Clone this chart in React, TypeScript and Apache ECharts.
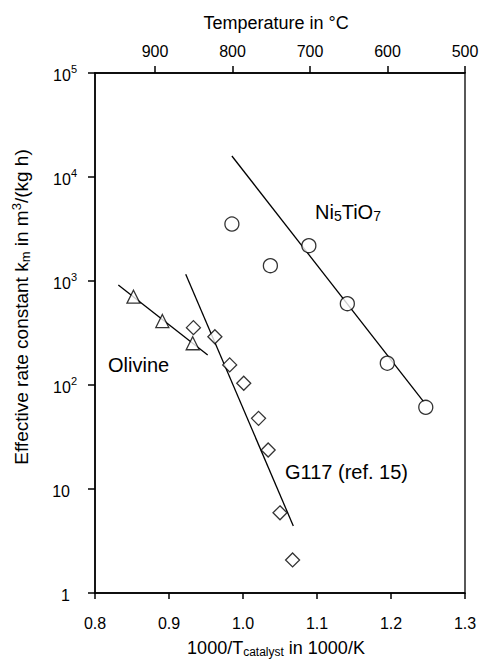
import React, { useEffect, useRef } from "react";
import * as echarts from "echarts";

// Olivine (triangles)
const olivineX = [0.852, 0.891, 0.932];
const olivineY = [706, 412, 252];
const olivineFitX = [0.8315, 0.9523];
const olivineFitY = [915, 194];

// G117 (ref. 15) (diamonds)
const g117X = [0.933, 0.962, 0.982, 1.001, 1.021, 1.034, 1.05, 1.067];
const g117Y = [356, 291, 156, 104, 47.8, 23.7, 5.9, 2.08];
const g117FitX = [0.9226, 1.068];
const g117FitY = [1160, 4.41];

// Ni5TiO7 (circles)
const niX = [0.985, 1.037, 1.089, 1.141, 1.195, 1.247];
const niY = [3532, 1404, 2185, 605, 162, 61];
const niFitX = [0.985, 1.244];
const niFitY = [15920, 69.1];

// Top axis (temperature in °C)
const tempTicks = [900, 800, 700, 600, 500];
const tempMin = 500;
const tempMax = 977.4;

const FONT = "'Liberation Sans', Arial, sans-serif";

const zip = (xs: number[], ys: number[]) => xs.map((x, i) => [x, ys[i]]);

export default function App() {
  const ref = useRef<HTMLDivElement>(null);
  useEffect(() => {
    if (!ref.current) return;
    const chart = echarts.init(ref.current, undefined, { renderer: "svg" });
    const lineStyle = { color: "#000", width: 1.3 };
    const markerStyle = { color: "#fff", borderColor: "#000", borderWidth: 1.3 };
    chart.setOption({
      animation: false,
      backgroundColor: "#fff",
      textStyle: { fontFamily: FONT, color: "#000" },
      grid: { left: 95, right: 18, top: 73, bottom: 67, show: true, borderColor: "#000", borderWidth: 1.3 },
      xAxis: [
        {
          type: "value",
          min: 0.8,
          max: 1.3,
          interval: 0.1,
          position: "bottom",
          axisLine: { show: true, lineStyle: { color: "#000", width: 1.5 } },
          axisTick: { show: true, inside: false, length: 6, lineStyle: { color: "#000", width: 1.5 } },
          axisLabel: {
            color: "#000",
            fontSize: 16,
            fontFamily: FONT,
            margin: 22,
            formatter: (v: number) => v.toFixed(1),
          },
          splitLine: { show: false },
        },
        {
          type: "value",
          min: tempMin,
          max: tempMax,
          inverse: true,
          position: "top",
          axisLine: { show: true, lineStyle: { color: "#000", width: 1.5 } },
          axisTick: { show: true, inside: false, length: 7, customValues: tempTicks, lineStyle: { color: "#000", width: 1.5 } },
          axisLabel: {
            color: "#000",
            fontSize: 16,
            fontFamily: FONT,
            margin: 14,
            customValues: tempTicks,
            formatter: (v: number) => String(v),
          },
          splitLine: { show: false },
        },
      ],
      yAxis: [
        {
          type: "log",
          logBase: 10,
          min: 1,
          max: 100000,
          axisLine: { show: true, lineStyle: { color: "#000", width: 1.5 } },
          axisTick: { show: true, inside: false, length: 7, lineStyle: { color: "#000", width: 1.5 } },
          axisLabel: {
            color: "#000",
            fontFamily: FONT,
            margin: 18,
            formatter: (v: number) => {
              const e = Math.round(Math.log10(v));
              if (e === 0) return "{b|1}{sp|}";
              if (e === 1) return "{b|10}{sp|}";
              return "{b|10}{s|" + e + "}";
            },
            rich: {
              b: { fontSize: 16, fontFamily: FONT, color: "#000", lineHeight: 20, verticalAlign: "bottom" },
              s: { fontSize: 11, fontFamily: FONT, color: "#000", lineHeight: 11, verticalAlign: "top" },
              sp: { width: 7, fontSize: 11, lineHeight: 11 },
            },
          },
          splitLine: { show: false },
        },
      ],
      graphic: [
        {
          type: "text",
          x: 276,
          y: 23,
          style: { text: "Temperature in °C", font: `18px ${FONT}`, fill: "#000", align: "center", verticalAlign: "middle" },
        },
        {
          type: "text",
          x: 276,
          y: 648,
          style: {
            text: "{a|1000/T}{s|catalyst}{a| in 1000/K}",
            align: "center",
            verticalAlign: "middle",
            rich: {
              a: { fontSize: 18, fontFamily: FONT, fill: "#000", lineHeight: 20 },
              s: { fontSize: 12, fontFamily: FONT, fill: "#000", lineHeight: 14, verticalAlign: "bottom" },
            },
          },
        },
        {
          type: "text",
          x: 21,
          y: 307,
          rotation: Math.PI / 2,
          style: {
            text: "{a|Effective rate constant k}{s|m}{a| in m}{p|3}{a|/(kg h)}",
            align: "center",
            verticalAlign: "middle",
            rich: {
              a: { fontSize: 19, fontFamily: FONT, fill: "#000", lineHeight: 22 },
              s: { fontSize: 13, fontFamily: FONT, fill: "#000", lineHeight: 13, verticalAlign: "bottom" },
              p: { fontSize: 13, fontFamily: FONT, fill: "#000", lineHeight: 13, verticalAlign: "top" },
            },
          },
        },
        {
          type: "text",
          x: 315,
          y: 212,
          style: {
            text: "{a|Ni}{s|5}{a|TiO}{s|7}",
            align: "left",
            verticalAlign: "middle",
            rich: {
              a: { fontSize: 20, fontFamily: FONT, fill: "#000", lineHeight: 22 },
              s: { fontSize: 14, fontFamily: FONT, fill: "#000", lineHeight: 14, verticalAlign: "bottom" },
            },
          },
        },
        {
          type: "text",
          x: 108,
          y: 365,
          style: { text: "Olivine", font: `20px ${FONT}`, fill: "#000", align: "left", verticalAlign: "middle" },
        },
        {
          type: "text",
          x: 285,
          y: 472,
          style: { text: "G117 (ref. 15)", font: `20px ${FONT}`, fill: "#000", align: "left", verticalAlign: "middle" },
        },
      ],
      series: [
        { type: "line", data: zip(olivineFitX, olivineFitY), showSymbol: false, symbol: "none", lineStyle, z: 2 },
        { type: "line", data: zip(g117FitX, g117FitY), showSymbol: false, symbol: "none", lineStyle, z: 2 },
        { type: "line", data: zip(niFitX, niFitY), showSymbol: false, symbol: "none", lineStyle, z: 2 },
        { type: "scatter", data: zip(olivineX, olivineY), symbol: "triangle", symbolSize: 13, itemStyle: markerStyle, z: 3 },
        { type: "scatter", data: zip(g117X, g117Y), symbol: "diamond", symbolSize: 14, itemStyle: markerStyle, z: 3 },
        { type: "scatter", data: zip(niX, niY), symbol: "circle", symbolSize: 14, itemStyle: markerStyle, z: 3 },
      ],
    });
    return () => chart.dispose();
  }, []);
  return <div ref={ref} style={{ position: "fixed", left: 0, top: 0, width: 483, height: 660 }} />;
}
